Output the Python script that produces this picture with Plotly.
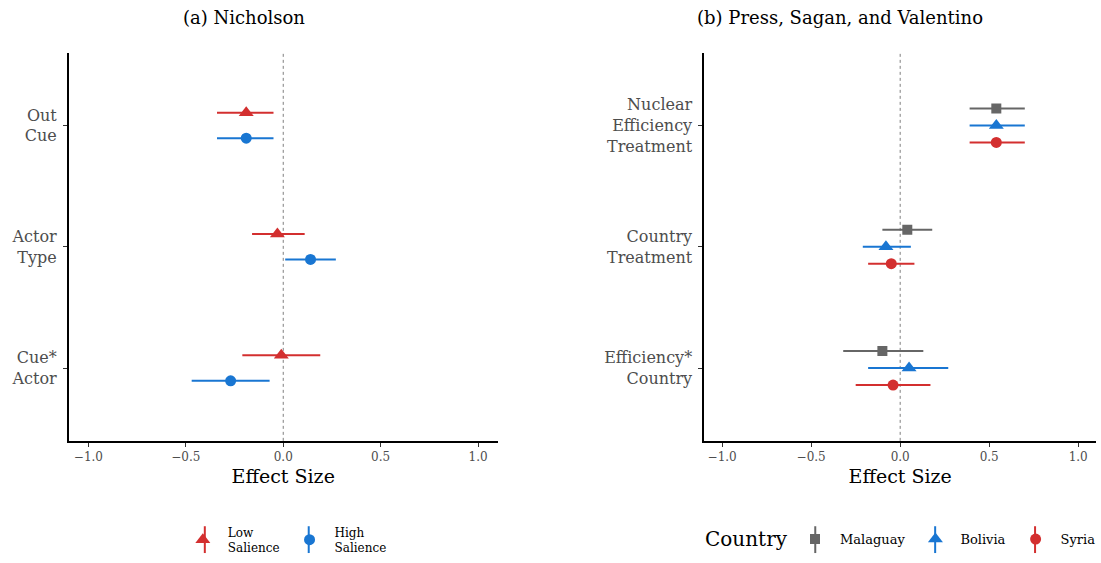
import plotly.graph_objects as go

# ---- Panel (a) Nicholson ----
terms_a = ["Out<br>Cue", "Actor<br>Type", "Cue*<br>Actor"]
low_est = [-0.19, -0.03, -0.01]
low_lo = [-0.34, -0.16, -0.21]
low_hi = [-0.05, 0.11, 0.19]
high_est = [-0.19, 0.14, -0.27]
high_lo = [-0.34, 0.01, -0.47]
high_hi = [-0.05, 0.27, -0.07]

# ---- Panel (b) Press, Sagan, and Valentino ----
terms_b = ["Nuclear<br>Efficiency<br>Treatment", "Country<br>Treatment", "Efficiency*<br>Country"]
mal_est = [0.54, 0.04, -0.10]
mal_lo = [0.39, -0.10, -0.32]
mal_hi = [0.70, 0.18, 0.13]
bol_est = [0.54, -0.08, 0.05]
bol_lo = [0.39, -0.21, -0.18]
bol_hi = [0.70, 0.06, 0.27]
syr_est = [0.54, -0.05, -0.04]
syr_lo = [0.39, -0.18, -0.25]
syr_hi = [0.70, 0.08, 0.17]

x_ticks = [-1.0, -0.5, 0.0, 0.5, 1.0]

RED = "#D32F2F"
BLUE = "#1976D2"
GRAY = "#666666"
FONT = "DejaVu Serif"
W, H = 1101, 563

fig = go.Figure()


def add_series(est, lo, hi, n_terms, dodge, color, symbol, name, xa, ya, legend, msize):
    ys = [i + 1 + dodge for i in range(n_terms)]
    fig.add_trace(go.Scatter(
        x=est, y=ys, mode="markers", name=name,
        marker=dict(color=color, symbol=symbol, size=msize),
        error_x=dict(type="data", symmetric=False,
                     array=[h - e for h, e in zip(hi, est)],
                     arrayminus=[e - l for e, l in zip(est, lo)],
                     color=color, thickness=2, width=0),
        xaxis=xa, yaxis=ya, legend=legend,
    ))


add_series(low_est, low_lo, low_hi, len(terms_a), -0.105, RED, "triangle-up", "Low<br>Salience", "x", "y", "legend", 13)
add_series(high_est, high_lo, high_hi, len(terms_a), 0.105, BLUE, "circle", "High<br>Salience", "x", "y", "legend", 11)

add_series(mal_est, mal_lo, mal_hi, len(terms_b), -0.14, GRAY, "square", "Malaguay", "x2", "y2", "legend2", 10)
add_series(bol_est, bol_lo, bol_hi, len(terms_b), 0.0, BLUE, "triangle-up", "Bolivia", "x2", "y2", "legend2", 13)
add_series(syr_est, syr_lo, syr_hi, len(terms_b), 0.14, RED, "circle", "Syria", "x2", "y2", "legend2", 11)

# zero reference lines
for xr, yr in [("x", "y"), ("x2", "y2")]:
    fig.add_shape(type="line", x0=0, x1=0, y0=0, y1=1, xref=xr, yref=yr + " domain",
                  line=dict(color="#7F7F7F", width=1, dash="3px,3px"), layer="below")

# vertical strokes of the legend keys (pointrange glyphs)
legend_keys = [(205, RED), (309, BLUE), (816, GRAY), (936, BLUE), (1036, RED)]
for kx, kc in legend_keys:
    fig.add_shape(type="line", x0=kx / W, x1=kx / W, y0=1 - 557 / H, y1=1 - 530 / H,
                  xref="paper", yref="paper", line=dict(color=kc, width=2), layer="above")

axis_common = dict(showgrid=False, zeroline=False, showline=True, linecolor="black",
                   linewidth=2, ticks="outside", ticklen=4, tickcolor="#333333", tickwidth=1)

xcommon = dict(axis_common, range=[-1.1, 1.1], tickvals=x_ticks, tickformat=".1f",
               tickfont=dict(family=FONT, size=12, color="#4D4D4D"),
               title=dict(text="Effect Size", font=dict(family=FONT, size=19, color="black"), standoff=6))

ycommon = dict(axis_common, range=[3.6, 0.4], tickvals=[1, 2, 3], ticklabelstandoff=3,
               tickfont=dict(family=FONT, size=16, color="#4D4D4D"))

ydom = [1 - 444 / H, 1 - 53 / H]

fig.update_layout(
    width=W, height=H,
    paper_bgcolor="white", plot_bgcolor="white",
    margin=dict(l=0, r=0, t=0, b=0),
    font=dict(family=FONT, color="black"),
    xaxis=dict(xcommon, domain=[69 / W, 498 / W], anchor="y"),
    xaxis2=dict(xcommon, domain=[705 / W, 1097 / W], anchor="y2"),
    yaxis=dict(ycommon, domain=ydom, ticktext=terms_a, anchor="x"),
    yaxis2=dict(ycommon, domain=ydom, ticktext=terms_b, anchor="x2"),
    showlegend=True,
    legend=dict(orientation="h", x=178 / W, xanchor="left", y=1 - 544 / H, yanchor="middle",
                itemwidth=40,
                font=dict(family=FONT, size=12, color="black"), bgcolor="rgba(0,0,0,0)"),
    legend2=dict(orientation="h", x=791 / W, xanchor="left", y=1 - 543 / H, yanchor="middle",
                 itemwidth=40,
                 font=dict(family=FONT, size=13, color="black"), bgcolor="rgba(0,0,0,0)"),
    annotations=[
        dict(text="(a) Nicholson", x=244 / W, y=1 - 18 / H, xref="paper", yref="paper",
             showarrow=False, xanchor="center", yanchor="middle",
             font=dict(family=FONT, size=18, color="black")),
        dict(text="(b) Press, Sagan, and Valentino", x=841 / W, y=1 - 18 / H, xref="paper", yref="paper",
             showarrow=False, xanchor="center", yanchor="middle",
             font=dict(family=FONT, size=18, color="black")),
        dict(text="Country", x=704 / W, y=1 - 543 / H, xref="paper", yref="paper",
             showarrow=False, xanchor="left", yanchor="middle",
             font=dict(family=FONT, size=20, color="black")),
    ],
)

fig.write_html("out.html",
               config={"displayModeBar": False},
               post_script="document.body.style.margin='0';document.body.style.overflow='hidden';")
